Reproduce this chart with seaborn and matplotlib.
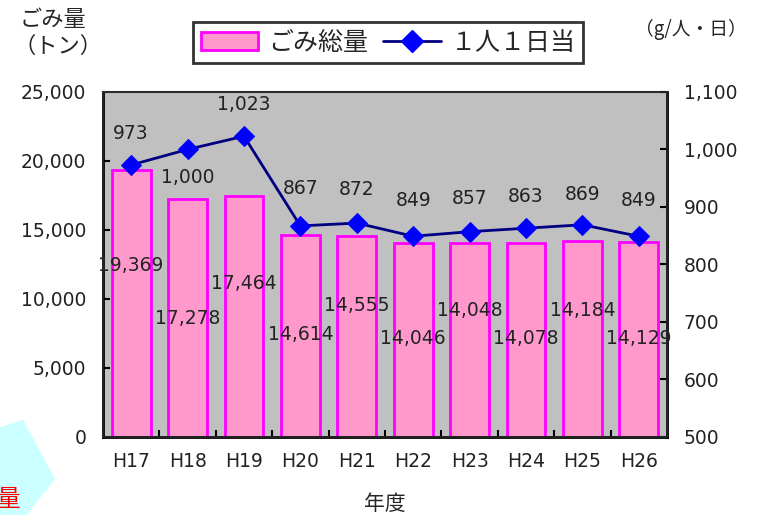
import numpy as np
import seaborn as sns
import matplotlib.pyplot as plt
from matplotlib.patches import Polygon
from matplotlib.lines import Line2D
from matplotlib.patches import Patch

# データ
years = ['H17', 'H18', 'H19', 'H20', 'H21', 'H22', 'H23', 'H24', 'H25', 'H26']
gomi_total = [19369, 17278, 17464, 14614, 14555, 14046, 14048, 14078, 14184, 14129]
per_person = [973, 1000, 1023, 867, 872, 849, 857, 863, 869, 849]

# ラベル位置 (Excelのデータラベル位置を再現)
bar_label_y = [12400, 8600, 11100, 7400, 9500, 7150, 9150, 7150, 9150, 7150]
line_label_dy = [23, -20, 23, 27, 24, 26, 24, 23, 22, 26]

fs = 13.5
jp = ['Noto Sans CJK JP']

sns.set_theme(style='white')
plt.rcParams['font.family'] = ['DejaVu Sans', 'Noto Sans CJK JP']

fig = plt.figure(figsize=(7.64, 5.15), dpi=100)
ax = fig.add_axes([0.1348, 0.1515, 0.7382, 0.67])
ax.set_facecolor('#C0C0C0')

sns.barplot(x=years, y=gomi_total, ax=ax, color='#FF99CC', edgecolor='#FF00FF',
            linewidth=2, width=0.69, saturation=1)
ax.set_xlim(-0.5, 9.5)
ax.set_ylim(0, 25000)
ax.set_yticks(range(0, 25001, 5000))
ax.set_yticklabels([f'{v:,}' for v in range(0, 25001, 5000)], fontsize=fs, color='#222222')
ax.set_xticks(range(len(years)))
ax.set_xticklabels(years, fontsize=fs, color='#222222')
ax.set_xticks(np.arange(0.5, 9.5, 1), minor=True)
ax.tick_params(axis='x', which='major', length=0, pad=11)
ax.tick_params(axis='x', which='minor', direction='in', length=5, width=1.5, color='black', bottom=True)
ax.tick_params(axis='y', direction='in', length=5, width=1.5, color='black', left=True, pad=12)
ax.set_xlabel('年度', fontsize=15, labelpad=16, family=jp)
ax.set_ylabel('')
for s in ['left', 'bottom', 'right']:
    ax.spines[s].set_color('black')
    ax.spines[s].set_linewidth(2)
ax.spines['top'].set_color('#555555')
ax.spines['top'].set_linewidth(1.5)

for i, v in enumerate(gomi_total):
    ax.text(i, bar_label_y[i], f'{v:,}', ha='center', va='center', fontsize=fs, color='#222222')

ax2 = ax.twinx()
sns.lineplot(x=range(len(years)), y=per_person, ax=ax2, color='#000080', linewidth=2,
             marker='D', markersize=10, markerfacecolor='#0000FF', markeredgecolor='#0000FF')
ax2.set_ylim(500, 1100)
ax2.set_yticks(range(500, 1101, 100))
ax2.set_yticklabels([f'{v:,}' for v in range(500, 1101, 100)], fontsize=fs, color='#222222')
ax2.tick_params(axis='y', direction='in', length=5, width=1.5, color='black', right=True, pad=12)
ax2.set_xlim(-0.5, 9.5)
ax2.grid(False)
ax.grid(False)
for i, v in enumerate(per_person):
    ax2.annotate(f'{v:,}', (i, v), xytext=(0, line_label_dy[i]), textcoords='offset points',
                 ha='center', va='center', fontsize=fs, color='#222222')

handles = [Patch(facecolor='#FF99CC', edgecolor='#FF00FF', linewidth=2),
           Line2D([0], [0], color='#000080', linewidth=2, marker='D', markersize=11,
                  markerfacecolor='#0000FF', markeredgecolor='#0000FF')]
leg = fig.legend(handles, ['ごみ総量', '１人１日当'], loc='center', bbox_to_anchor=(0.508, 0.917),
                 ncol=2, frameon=True, fancybox=False, handlelength=2.3,
                 columnspacing=0.6, handletextpad=0.4, borderpad=0.3,
                 prop={'family': jp, 'size': 18})
leg.get_frame().set_edgecolor('black')
leg.get_frame().set_linewidth(2)

fig.text(0.025, 0.962, 'ごみ量', fontsize=16, ha='left', va='center', family=jp)
fig.text(0.018, 0.91, '（トン）', fontsize=16, ha='left', va='center', family=jp)
fig.text(0.977, 0.942, '（g/人・日）', fontsize=13.5, ha='right', va='center', family=jp)

# 左下の切れた図形
fig.patches.append(Polygon([[0, 0.17], [0.03, 0.185], [0.072, 0.07], [0.035, 0.0], [0, 0.0]],
                           closed=True, transform=fig.transFigure, facecolor='#CCFFFF',
                           edgecolor='none', zorder=0))
fig.text(-0.004, 0.03, '量', fontsize=17, color='red', ha='left', va='center', family=jp)

plt.savefig('out.png', dpi=100)
